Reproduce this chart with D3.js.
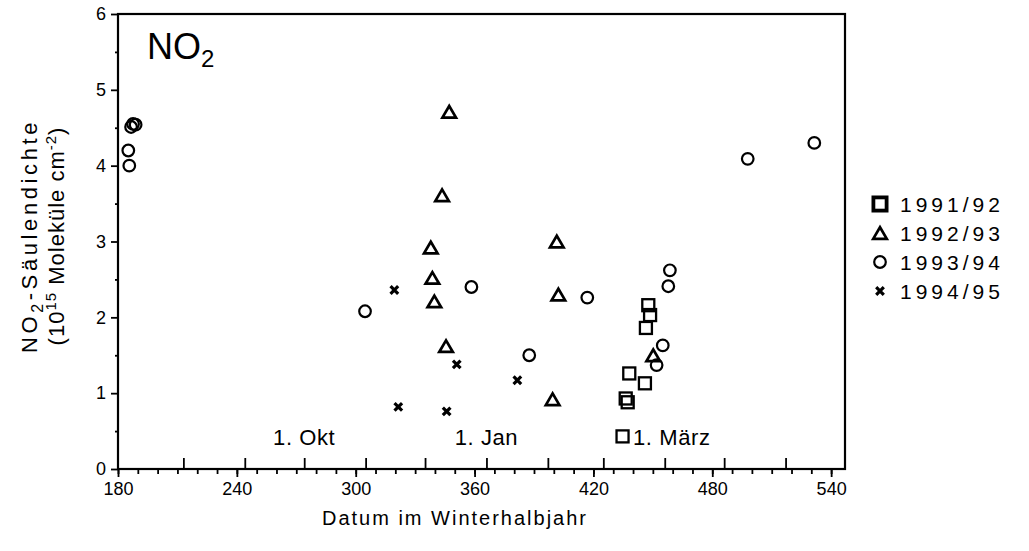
<!DOCTYPE html>
<html><head><meta charset="utf-8">
<script src="https://cdn.jsdelivr.net/npm/d3@7"></script>
<style>
html,body{margin:0;padding:0;background:#fff;}
svg{display:block;font-family:"Liberation Sans",Arial,Helvetica,sans-serif;}
</style></head>
<body><svg id="c" width="1029" height="551"></svg>
<script>
// ---- data (day in winter half-year, NO2 column density in 1e15 molecules/cm2) ----
const seriesNames = ["1991/92","1992/93","1993/94","1994/95"];
const days9192 = [447.7,448.6,446.5,438.1,446.0,436.3,437.3,434.7];
const vals9192 = [2.16,2.03,1.86,1.26,1.13,0.93,0.88,0.43];
const days9293 = [347.2,343.6,337.9,338.7,339.7,345.6,401.5,402.3,399.4,450.2];
const vals9293 = [4.71,3.61,2.92,2.52,2.21,1.62,3.00,2.30,0.92,1.50];
const days9394 = [185.2,185.7,186.6,187.6,188.9,304.7,358.4,387.6,416.9,458.6,457.8,455.0,451.9,497.9,531.5];
const vals9394 = [4.20,4.00,4.51,4.55,4.54,2.08,2.40,1.50,2.26,2.62,2.41,1.63,1.37,4.09,4.30];
const days9495 = [319.5,321.5,345.9,351.0,381.6];
const vals9495 = [2.36,0.82,0.76,1.38,1.17];
const xTickLabels = [180,240,300,360,420,480,540];
const xMinorTicks = d3.range(180,541,10);
const monthStarts = [213,244,274,305,335,366,397,425,456,486,517];
const yTicks = [0,1,2,3,4,5,6];
const yMinorTicks = [0.5,1.5,2.5,3.5,4.5,5.5];
const dateLabels = ["1. Okt","1. Jan","1. März"];
const dateLabelDays = [274,366,440];
const dateLabelAnchor = ["middle","middle","start"];

const svg = d3.select("#c");
const L=118, R=845, T=14, B=469;
const x = d3.scaleLinear().domain([180,547]).range([L,R]);
const y = d3.scaleLinear().domain([0,6]).range([B,T]);

// frame
svg.append("rect").attr("x",L).attr("y",T).attr("width",R-L).attr("height",B-T)
  .attr("fill","none").attr("stroke","#000").attr("stroke-width",2.2);

// x axis: minor ticks down every 10 days, labelled ticks longer
const gx = svg.append("g").attr("transform",`translate(0,${B})`);
gx.append("g").call(d3.axisBottom(x).tickValues(xMinorTicks).tickSize(5).tickFormat(""))
  .call(g=>g.select(".domain").remove())
  .selectAll("line").attr("stroke","#000").attr("stroke-width",1.8);
gx.append("g").call(d3.axisBottom(x).tickValues(xTickLabels).tickSize(8).tickPadding(5).tickFormat(d3.format("d")))
  .call(g=>g.select(".domain").remove())
  .call(g=>g.selectAll("line").attr("stroke","#000").attr("stroke-width",1.8))
  .call(g=>g.selectAll("text").attr("fill","#000").attr("font-size",18).attr("font-family","Liberation Sans, Arial, sans-serif"));
// month ticks pointing up
gx.append("g").call(d3.axisTop(x).tickValues(monthStarts).tickSize(11).tickFormat(""))
  .call(g=>g.select(".domain").remove())
  .selectAll("line").attr("stroke","#000").attr("stroke-width",1.8);

// y axis
const gy = svg.append("g").attr("transform",`translate(${L},0)`);
gy.append("g").call(d3.axisLeft(y).tickValues(yTicks).tickSize(7).tickPadding(5).tickFormat(d3.format("d")))
  .call(g=>g.select(".domain").remove())
  .call(g=>g.selectAll("line").attr("stroke","#000").attr("stroke-width",1.8))
  .call(g=>g.selectAll("text").attr("fill","#000").attr("font-size",18).attr("font-family","Liberation Sans, Arial, sans-serif"));
gy.append("g").call(d3.axisLeft(y).tickValues(yMinorTicks).tickSize(3).tickFormat(""))
  .call(g=>g.select(".domain").remove())
  .selectAll("line").attr("stroke","#000").attr("stroke-width",1.8);

// date labels inside plot
dateLabels.forEach((t,i)=>{
  svg.append("text").attr("x",x(dateLabelDays[i])).attr("y",445)
    .attr("text-anchor",dateLabelAnchor[i]).attr("font-size",22).attr("letter-spacing",0.6).text(t);
});

// title NO2
const title = svg.append("text").attr("x",147).attr("y",59).attr("font-size",36);
title.append("tspan").text("NO");
title.append("tspan").attr("font-size",24).attr("dy",8).text("2");

// axis titles
svg.append("text").attr("x",455).attr("y",525).attr("text-anchor","middle")
  .attr("font-size",20).attr("letter-spacing",2).text("Datum im Winterhalbjahr");
const yt = svg.append("g").attr("transform","translate(0,236) rotate(-90)");
const l1 = yt.append("text").attr("x",0).attr("y",37).attr("text-anchor","middle").attr("font-size",22).attr("letter-spacing",3.6);
l1.append("tspan").text("NO");
l1.append("tspan").attr("font-size",16).attr("dy",6).text("2");
l1.append("tspan").attr("dy",-6).text("-Säulendichte");
const l2 = yt.append("text").attr("x",0).attr("y",64).attr("text-anchor","middle").attr("font-size",22).attr("letter-spacing",1);
l2.append("tspan").text("(10");
l2.append("tspan").attr("font-size",15).attr("dy",-8).text("15");
l2.append("tspan").attr("dy",8).text(" Moleküle cm");
l2.append("tspan").attr("font-size",15).attr("dy",-8).text("-2");
l2.append("tspan").attr("dy",8).text(")");

// markers
function drawMarker(g, type, cx, cy, big){
  const s = big?1.1:1;
  if(type===0){
    const a=6*s;
    g.append("rect").attr("x",cx-a).attr("y",cy-a).attr("width",2*a).attr("height",2*a)
      .attr("fill","none").attr("stroke","#000").attr("stroke-width",big?3.8:2.3);
  } else if(type===1){
    const w=6.8*s, h=5.8*s;
    g.append("path").attr("d",`M${cx},${cy-h}L${cx+w},${cy+h}L${cx-w},${cy+h}Z`)
      .attr("fill","none").attr("stroke","#000").attr("stroke-width",2.7).attr("stroke-linejoin","miter");
  } else if(type===2){
    g.append("circle").attr("cx",cx).attr("cy",cy).attr("r",5.8*s)
      .attr("fill","none").attr("stroke","#000").attr("stroke-width",2.2);
  } else {
    const a=3.8*s;
    g.append("path").attr("d",`M${cx-a},${cy-a}L${cx+a},${cy+a}M${cx-a},${cy+a}L${cx+a},${cy-a}`)
      .attr("stroke","#000").attr("stroke-width",3.2);
  }
}
const allDays=[days9192,days9293,days9394,days9495];
const allVals=[vals9192,vals9293,vals9394,vals9495];
const gm = svg.append("g");
allDays.forEach((ds,si)=>{
  ds.forEach((d,i)=>drawMarker(gm, si, x(d), y(allVals[si][i]), false));
});

// legend
const legY=[204,233,262,291];
seriesNames.forEach((n,i)=>{
  drawMarker(svg, i, 880, legY[i], i===0);
  svg.append("text").attr("x",900).attr("y",legY[i]+8).attr("font-size",21)
    .attr("letter-spacing",4).text(n);
});
</script></body></html>
